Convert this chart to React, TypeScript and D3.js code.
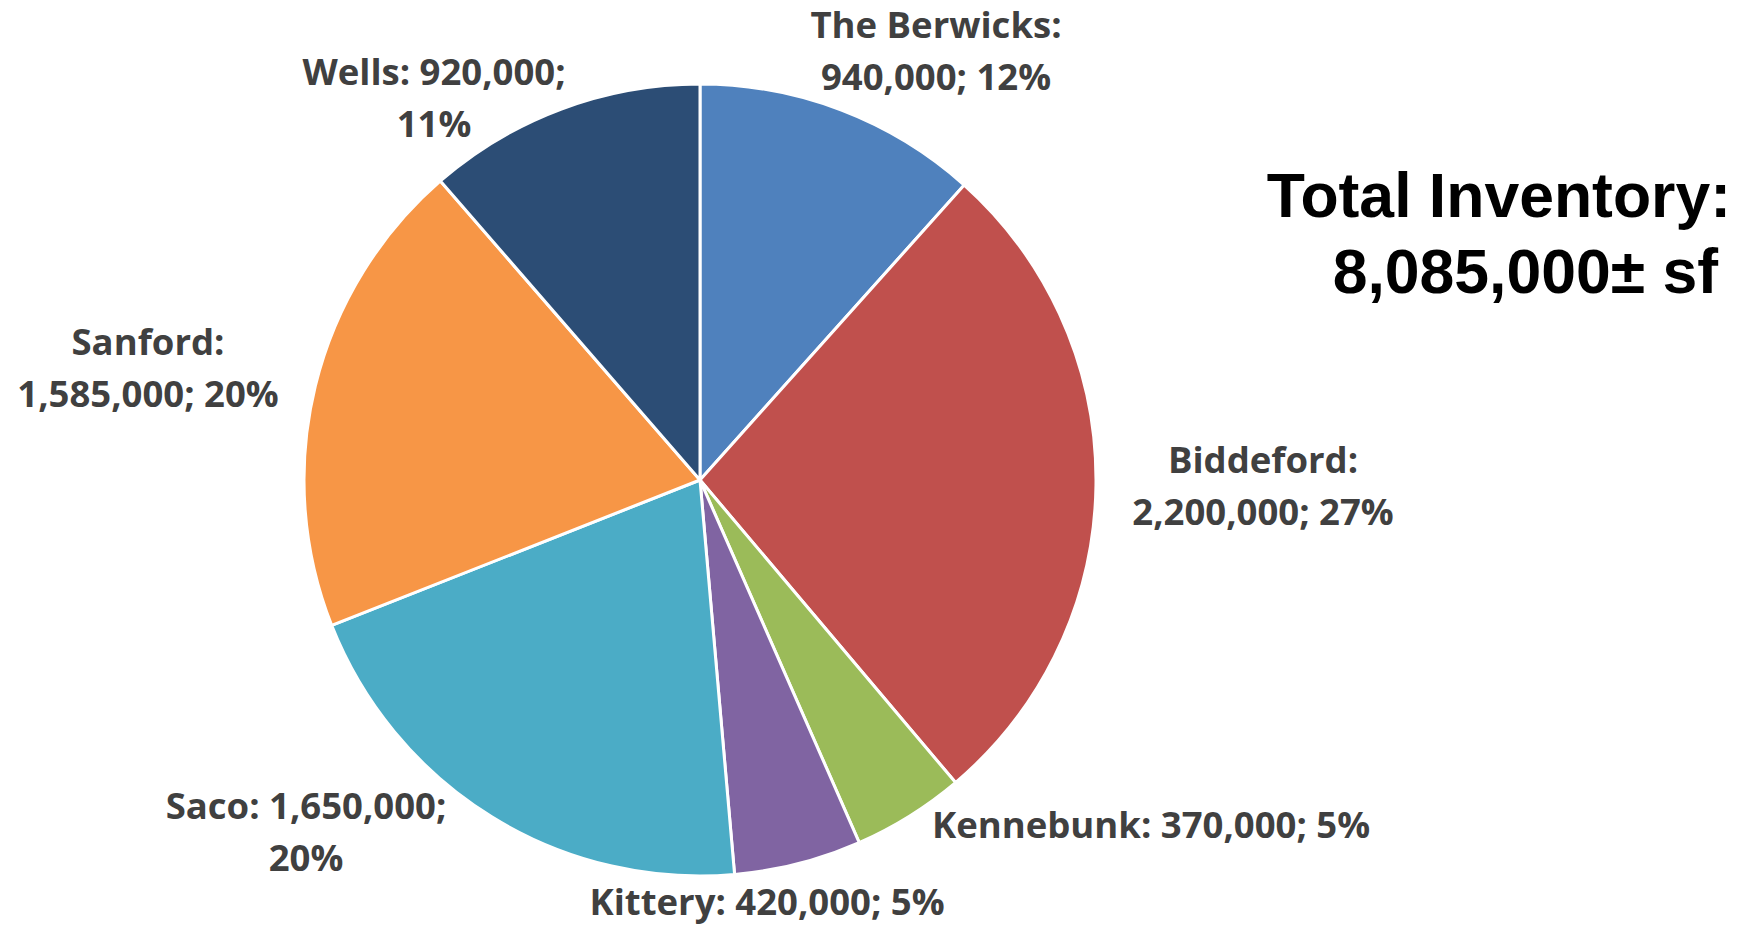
import React from "react";
import * as d3 from "d3";

const categories = ["The Berwicks", "Biddeford", "Kennebunk", "Kittery", "Saco", "Sanford", "Wells"];
const values = [940000, 2200000, 370000, 420000, 1650000, 1585000, 920000];
const percents = ["12%", "27%", "5%", "5%", "20%", "20%", "11%"];
const colors = ["#4F81BD", "#C0504D", "#9BBB59", "#8064A2", "#4BACC6", "#F79646", "#2C4D75"];
// label lines as shown in the chart
const labelLines = [
  ["The Berwicks:", "940,000; 12%"],
  ["Biddeford:", "2,200,000; 27%"],
  ["Kennebunk: 370,000; 5%"],
  ["Kittery: 420,000; 5%"],
  ["Saco: 1,650,000;", "20%"],
  ["Sanford:", "1,585,000; 20%"],
  ["Wells: 920,000;", "11%"],
];
// label anchor (center x, first baseline y) in page coords
const labelPos: [number, number][] = [
  [936, 38],
  [1263, 473],
  [1151, 838],
  [767, 915],
  [306, 819],
  [148, 355],
  [434, 85],
];
const titleLines = ["Total Inventory:", "8,085,000\u00b1 sf"];

export default function App() {
  const W = 1756, H = 927;
  const cx = 700, cy = 480, R = 396;
  const pie = d3.pie<number>().sort(null).value((d) => d)(values);
  const arc = d3.arc<d3.PieArcDatum<number>>().innerRadius(0).outerRadius(R);
  const fmt = d3.format(",");
  return (
    <svg width={W} height={H} style={{ position: "absolute", left: 0, top: 0, background: "#fff" }}>
      <g transform={`translate(${cx},${cy})`}>
        {pie.map((p, i) => (
          <path key={i} d={arc(p) || ""} fill={colors[i]} stroke="#fff" strokeWidth={3} strokeLinejoin="round">
            <title>{`${categories[i]}: ${fmt(values[i])}; ${percents[i]}`}</title>
          </path>
        ))}
      </g>
      {labelLines.map((lines, i) => (
        <text
          key={i}
          x={labelPos[i][0]}
          y={labelPos[i][1]}
          textAnchor="middle"
          fontFamily="'Open Sans', sans-serif"
          fontWeight={700}
          fontSize={36.5}
          fill="#404040"
        >
          {lines.map((l, j) => (
            <tspan key={j} x={labelPos[i][0]} dy={j === 0 ? 0 : 52}>{l}</tspan>
          ))}
        </text>
      ))}
      <text fontFamily="'Liberation Sans', Arial, sans-serif" fontWeight={700} fontSize={62.5} fill="#000" textAnchor="end">
        <tspan x={1731} y={217}>{titleLines[0]}</tspan>
        <tspan x={1718} y={293}>{titleLines[1]}</tspan>
      </text>
    </svg>
  );
}
